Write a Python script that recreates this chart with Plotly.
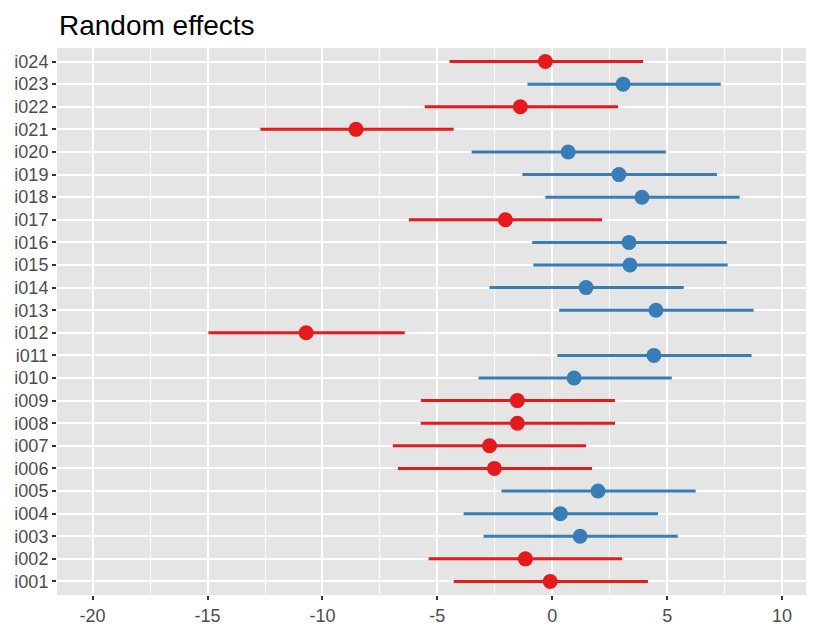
import plotly.graph_objects as go

items = [f"i{n:03d}" for n in range(1, 25)]
estimate = [-0.09, -1.17, 1.21, 0.35, 1.99, -2.52, -2.73, -1.52, -1.52, 0.95,
            4.42, -10.71, 4.51, 1.47, 3.38, 3.34, -2.04, 3.90, 2.90, 0.69,
            -8.54, -1.39, 3.08, -0.30]
lower = [-4.29, -5.38, -2.99, -3.86, -2.21, -6.72, -6.94, -5.72, -5.72, -3.21,
         0.22, -14.96, 0.30, -2.73, -0.82, -0.87, -6.24, -0.30, -1.30, -3.51,
         -12.70, -5.55, -1.08, -4.47]
upper = [4.16, 3.04, 5.46, 4.60, 6.24, 1.73, 1.47, 2.73, 2.73, 5.20,
         8.67, -6.42, 8.76, 5.72, 7.63, 7.59, 2.17, 8.15, 7.16, 4.94,
         -4.29, 2.86, 7.33, 3.95]
x_ticks = [-20, -15, -10, -5, 0, 5, 10]

RED = "#E41A1C"
BLUE = "#377EB8"

# page has an 8px body margin; figure is sized to fit the 814x627 window
W, H = 806, 619

fig = go.Figure()
for color, sel in [(RED, lambda v: v < 0), (BLUE, lambda v: v >= 0)]:
    xs, ys, px, py = [], [], [], []
    for it, e, lo, hi in zip(items, estimate, lower, upper):
        if sel(e):
            xs += [lo, hi, None]
            ys += [it, it, None]
            px.append(e)
            py.append(it)
    fig.add_trace(go.Scatter(x=xs, y=ys, mode="lines",
                             line=dict(color=color, width=3),
                             hoverinfo="skip", showlegend=False))
    fig.add_trace(go.Scatter(x=px, y=py, mode="markers",
                             marker=dict(color=color, size=15, line=dict(width=0)),
                             showlegend=False))

fig.update_layout(
    width=W, height=H,
    margin=dict(l=49, r=2, t=40, b=32),
    paper_bgcolor="white",
    plot_bgcolor="#E5E5E5",
    font=dict(family="Liberation Sans, Arial, sans-serif"),
    title=dict(text="Random effects", x=51 / W, xref="container", xanchor="left",
               y=1 - 17 / H, yref="container", yanchor="middle",
               font=dict(size=28, color="black")),
    xaxis=dict(range=[-21.55, 11.3], tickvals=x_ticks,
               ticktext=[str(t) for t in x_ticks], automargin=False,
               showgrid=True, gridcolor="white", gridwidth=1.8,
               minor=dict(tickvals=[-17.5, -12.5, -7.5, -2.5, 2.5, 7.5],
                          showgrid=True, gridcolor="white", gridwidth=0.9),
               zeroline=False, ticks="outside", ticklen=4, tickwidth=1.5,
               tickcolor="#333333",
               tickfont=dict(size=18, color="#4D4D4D"), showline=False),
    yaxis=dict(type="category", categoryorder="array", categoryarray=items,
               range=[-0.6, 23.6], automargin=False,
               showgrid=True, gridcolor="white", gridwidth=1.8,
               zeroline=False, ticks="outside", ticklen=4, tickwidth=1.5,
               tickcolor="#333333",
               tickfont=dict(size=18, color="#4D4D4D"), showline=False),
)

fig.write_html("out.html")
